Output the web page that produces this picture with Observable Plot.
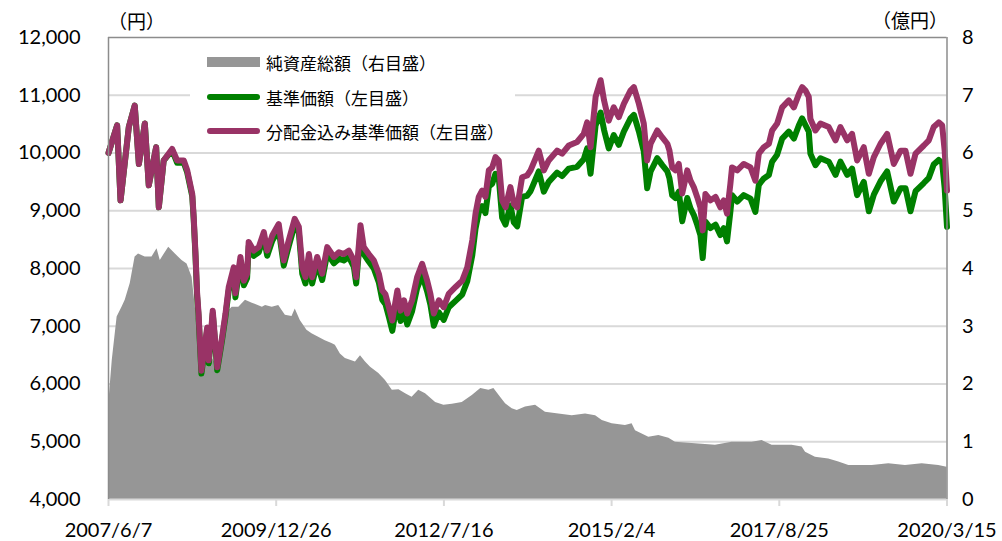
<!DOCTYPE html>
<html><head><meta charset="utf-8">
<script src="https://cdn.jsdelivr.net/npm/d3@7"></script>
<script src="https://cdn.jsdelivr.net/npm/@observablehq/plot@0.6"></script>
<style>
body{margin:0;background:#fff;}
#wrap{position:relative;width:1002px;height:541px;overflow:hidden;font-family:"Noto Sans CJK JP",sans-serif;}
.unit{position:absolute;font-size:19px;color:#000;line-height:1;white-space:nowrap;}
#legend{position:absolute;left:190px;top:46px;width:325px;height:100px;background:#fff;}
.item{position:absolute;left:17px;height:20px;display:flex;align-items:center;font-size:17px;color:#000;white-space:nowrap;}
.sw{width:53px;margin-right:6px;}
</style></head><body><div id="wrap"></div>
<script>
// ---- data ----
const navDates = [
 "2007-06-07","2007-07-25","2007-08-13","2007-09-28","2007-10-31","2007-11-23","2007-12-26",
 "2008-01-17","2008-02-27","2008-03-13","2008-04-09","2008-05-26","2008-06-23","2008-07-30","2008-08-18","2008-09-15","2008-09-23","2008-10-03","2008-10-12","2008-10-20","2008-11-05","2008-12-07","2008-12-16",
 "2009-01-07","2009-02-01","2009-02-28","2009-03-19","2009-04-06","2009-05-04","2009-05-13","2009-06-10","2009-06-29","2009-07-17","2009-07-26","2009-08-23","2009-09-20","2009-10-18","2009-11-06","2009-12-04",
 "2010-01-09","2010-02-06","2010-03-06","2010-04-08","2010-05-01","2010-05-20","2010-06-07","2010-06-26","2010-07-14","2010-08-11","2010-09-08","2010-10-06","2010-11-12","2010-12-10",
 "2011-01-06","2011-02-03","2011-03-03","2011-03-16","2011-04-09","2011-04-27","2011-05-25","2011-06-22","2011-07-20","2011-08-08","2011-08-26","2011-09-14","2011-10-03","2011-10-31","2011-11-18","2011-12-07","2011-12-25",
 "2012-01-21","2012-02-18","2012-03-17","2012-04-14","2012-05-02","2012-05-21","2012-06-18","2012-07-15","2012-08-12","2012-09-19","2012-10-26","2012-11-23","2012-12-21",
 "2013-01-08","2013-01-26","2013-02-14","2013-03-04","2013-03-23","2013-04-11","2013-04-29","2013-05-17","2013-06-05","2013-06-24","2013-07-21","2013-08-09","2013-08-28","2013-09-24","2013-10-22","2013-11-10","2013-12-26",
 "2014-01-23","2014-02-19","2014-04-07","2014-05-05","2014-06-11","2014-07-27","2014-09-02","2014-09-21","2014-10-10","2014-11-07","2014-12-05","2014-12-24",
 "2015-01-19","2015-02-16","2015-03-16","2015-04-13","2015-05-20","2015-06-08","2015-07-06","2015-08-02","2015-08-21","2015-09-09","2015-10-16","2015-11-13","2015-12-11","2015-12-23",
 "2016-01-07","2016-01-25","2016-02-13","2016-03-03","2016-03-31","2016-04-18","2016-05-06","2016-05-25","2016-06-12","2016-06-25","2016-07-10","2016-08-07","2016-09-04","2016-10-01","2016-10-20","2016-11-07","2016-11-26","2016-12-05",
 "2017-01-03","2017-02-08","2017-03-18","2017-04-14","2017-05-03","2017-05-31","2017-06-28","2017-07-16","2017-08-13","2017-09-10","2017-10-17","2017-11-14","2017-12-12","2017-12-30",
 "2018-01-18","2018-02-05","2018-02-14","2018-03-14","2018-04-11","2018-05-27","2018-07-04","2018-07-31","2018-09-07","2018-10-04","2018-11-01","2018-12-08",
 "2019-01-05","2019-02-02","2019-03-11","2019-04-17","2019-05-24","2019-07-01","2019-07-28","2019-08-25","2019-09-22","2019-11-07","2019-12-05",
 "2020-01-01","2020-01-29","2020-02-17","2020-03-02","2020-03-15"
];
// 分配金込み基準価額 (purple)
const navWithDiv = [
 10000,10480,9180,10450,10820,9810,10510,
 9440,10100,9060,9870,10070,9870,9870,9700,9290,8890,8260,7570,7220,6230,6980,6410,
 7270,6290,6810,7220,7680,8020,7570,8200,7790,7910,8460,8310,8370,8630,8310,8570,
 8770,8140,8490,8860,8720,8020,7850,8250,7850,8200,7910,8370,8200,8280,
 8250,8310,8140,7850,8750,8370,8250,8140,7910,7620,7550,7330,7100,7620,7270,7450,7220,
 7450,7850,8080,7790,7560,7220,7450,7330,7560,7680,7790,8020,8490,
 8950,9240,9350,9240,9700,9750,9930,9870,9180,9060,9410,9120,9060,9580,9610,9700,10040,
 9700,9870,10040,9990,10130,10190,10330,10530,10100,10970,11260,10910,
 10560,10790,10620,10850,11080,11140,10850,10510,9870,10160,10390,10270,10160,10040,
 9750,9700,9810,9300,9700,9520,9410,9240,9060,8660,9290,9180,9240,9060,9180,8950,9470,9750,
 9700,9810,9750,9520,9990,10100,10160,10390,10510,10790,10910,10790,11020,11140,
 11080,10970,10590,10390,10510,10450,10220,10450,10220,10330,9870,10100,
 9640,9930,10160,10330,9810,10040,10040,9640,9990,10130,10220,
 10450,10530,10480,10040,9350
];
// 基準価額 (green)
const navBase = [
 10000,10480,9180,10450,10820,9810,10510,
 9440,10100,9060,9870,10050,9830,9830,9660,9250,8850,8210,7520,7170,6180,6930,6360,
 7220,6240,6760,7170,7620,7960,7500,8130,7710,7830,8380,8220,8280,8540,8220,8480,
 8680,8050,8390,8760,8620,7910,7740,8140,7740,8090,7800,8260,8090,8170,
 8140,8200,8030,7740,8630,8250,8120,8000,7760,7460,7380,7160,6920,7440,7090,7260,7030,
 7260,7660,7890,7600,7370,7010,7240,7110,7330,7440,7550,7780,8230,
 8690,8970,9080,8960,9420,9470,9640,9580,8880,8760,9090,8800,8730,9240,9260,9340,9680,
 9330,9500,9660,9600,9730,9760,9890,10080,9640,10480,10700,10400,
 10080,10310,10140,10370,10600,10660,10370,10030,9390,9680,9910,9790,9680,9560,
 9270,9220,9330,8820,9220,9040,8930,8760,8580,8180,8810,8700,8760,8580,8700,8470,8990,9270,
 9160,9270,9210,8980,9450,9560,9620,9850,9970,10250,10370,10250,10480,10600,
 10480,10370,9990,9790,9910,9850,9620,9850,9620,9730,9270,9500,
 8990,9280,9510,9680,9160,9390,9390,8990,9340,9480,9570,
 9800,9880,9830,9390,8720
];
// 純資産総額 (億円, right axis)
const assetDates = [
 "2007-06-07","2007-06-28","2007-07-25","2007-08-21","2007-09-08","2007-10-06","2007-11-02","2007-11-21","2007-12-28",
 "2008-02-04","2008-03-03","2008-03-21","2008-05-07","2008-06-13","2008-07-20","2008-08-17","2008-09-14","2008-10-03","2008-10-31","2008-11-28","2008-12-26",
 "2009-02-01","2009-03-19","2009-04-06","2009-04-25","2009-06-01","2009-07-08","2009-08-15","2009-10-10","2009-10-28","2009-12-04",
 "2010-01-09","2010-02-15","2010-03-24","2010-04-11","2010-05-09","2010-06-15","2010-07-13","2010-08-19","2010-09-25","2010-11-01","2010-11-20","2010-12-18",
 "2011-01-15","2011-03-12","2011-04-09","2011-05-07","2011-06-04","2011-07-20","2011-08-26","2011-10-03","2011-11-09","2011-12-16",
 "2012-01-21","2012-02-27","2012-04-05","2012-05-31","2012-07-16","2012-09-01","2012-10-26","2012-12-21",
 "2013-02-06","2013-03-23","2013-04-20","2013-05-27","2013-06-24","2013-07-31","2013-08-28","2013-10-13","2013-12-08",
 "2014-02-01","2014-04-16","2014-06-30","2014-09-12","2014-11-07","2014-12-14",
 "2015-02-07","2015-04-22","2015-05-29","2015-06-17","2015-08-30","2015-10-25","2015-12-20",
 "2016-01-25","2016-06-03","2016-09-04","2016-12-05",
 "2017-03-27","2017-05-22","2017-07-16","2017-11-04","2017-12-30",
 "2018-01-18","2018-03-14","2018-05-27","2018-07-22","2018-09-16","2018-11-29",
 "2019-01-24","2019-04-26","2019-07-28","2019-10-29",
 "2020-01-29","2020-03-15"
];
const assetValues = [
 1.60,2.41,3.16,3.33,3.45,3.74,4.20,4.25,4.20,
 4.20,4.34,4.14,4.37,4.25,4.14,4.08,3.85,3.30,2.40,2.50,2.50,
 2.30,3.10,3.27,3.33,3.33,3.45,3.40,3.33,3.36,3.33,
 3.36,3.19,3.17,3.30,3.10,2.93,2.87,2.81,2.75,2.70,2.67,2.52,
 2.44,2.38,2.49,2.38,2.29,2.18,2.06,1.89,1.90,1.83,
 1.77,1.89,1.83,1.68,1.63,1.65,1.68,1.80,
 1.92,1.89,1.92,1.77,1.66,1.57,1.54,1.60,1.63,
 1.51,1.48,1.45,1.48,1.45,1.37,
 1.31,1.28,1.31,1.19,1.08,1.11,1.06,
 0.99,0.96,0.94,0.99,
 0.99,1.02,0.94,0.94,0.91,
 0.82,0.73,0.70,0.65,0.59,0.59,
 0.59,0.62,0.59,0.62,
 0.59,0.56
];
const yTicks = [4000,5000,6000,7000,8000,9000,10000,11000,12000];
const rightTicks = [0,1,2,3,4,5,6,7,8];
const xTickDates = ["2007-06-07","2009-12-26","2012-07-16","2015-02-04","2017-08-25","2020-03-15"];
const labels = {assets:"純資産総額（右目盛）", nav:"基準価額（左目盛）", navDiv:"分配金込み基準価額（左目盛）", leftUnit:"（円）", rightUnit:"（億円）"};
const colors = {assets:"#969696", nav:"#008000", navDiv:"#993366", grid:"#d9d9d9", frame:"#8c8c8c"};

// ---- build ----
const parse = s => new Date(s + "T00:00:00Z");
const navRows = navDates.map((d,i) => ({date: parse(d), nav: navBase[i], navDiv: navWithDiv[i]}));
const assetRows = assetDates.map((d,i) => ({date: parse(d), v: assetValues[i]}));
const toLeft = d3.scaleLinear().domain([rightTicks[0], rightTicks[rightTicks.length-1]]).range([yTicks[0], yTicks[yTicks.length-1]]);
const xDomain = [parse(xTickDates[0]), parse(xTickDates[xTickDates.length-1])];
const fmtDate = d => `${d.getUTCFullYear()}/${d.getUTCMonth()+1}/${d.getUTCDate()}`;

const chart = Plot.plot({
  width: 1002, height: 541,
  marginLeft: 108, marginRight: 55.5, marginTop: 37, marginBottom: 42,
  style: {fontFamily: "Lato, 'Noto Sans CJK JP', sans-serif", fontSize: "20px", color: "#000", background: "#fff"},
  x: {type: "utc", domain: xDomain, label: null},
  y: {domain: [yTicks[0], yTicks[yTicks.length-1]], label: null},
  marks: [
    Plot.ruleY(yTicks.slice(1, -1), {stroke: colors.grid, strokeWidth: 2}),
    Plot.areaY(assetRows, {x: "date", y1: yTicks[0], y2: d => toLeft(d.v), fill: colors.assets}),
    Plot.line(navRows, {x: "date", y: "nav", stroke: colors.nav, strokeWidth: 6, strokeLinejoin: "round", strokeLinecap: "round"}),
    Plot.line(navRows, {x: "date", y: "navDiv", stroke: colors.navDiv, strokeWidth: 6, strokeLinejoin: "round", strokeLinecap: "round"}),
    Plot.ruleY([yTicks[0]], {stroke: colors.grid, strokeWidth: 2}),
    Plot.ruleY([yTicks[yTicks.length-1]], {stroke: colors.frame, strokeWidth: 1.5}),
    Plot.ruleX(xDomain, {stroke: colors.frame, strokeWidth: 1.5}),
    Plot.axisY({anchor: "left", ticks: yTicks, tickSize: 0, tickPadding: 28, tickFormat: d3.format(","), label: null, fontSize: 20}),
    Plot.axisY({anchor: "right", ticks: rightTicks.map(toLeft), tickSize: 0, tickPadding: 15, tickFormat: d => String(Math.round(toLeft.invert(d))), label: null, fontSize: 20}),
    Plot.axisX({ticks: xTickDates.map(parse), tickSize: 7, tickPadding: 16, stroke: colors.grid, strokeWidth: 2, tickFormat: fmtDate, label: null, fontSize: 20})
  ]
});
const wrap = document.getElementById("wrap");
wrap.appendChild(chart);

// units
const lu = document.createElement("div"); lu.className = "unit"; lu.textContent = labels.leftUnit;
lu.style.left = "108px"; lu.style.top = "11px"; wrap.appendChild(lu);
const ru = document.createElement("div"); ru.className = "unit"; ru.textContent = labels.rightUnit;
ru.style.right = "54px"; ru.style.top = "10px"; wrap.appendChild(ru);

// legend
const lg = document.createElement("div"); lg.id = "legend";
const items = [
  {t: labels.assets, c: colors.assets, kind: "box", top: 6},
  {t: labels.nav, c: colors.nav, kind: "line", top: 41},
  {t: labels.navDiv, c: colors.navDiv, kind: "line", top: 75}
];
for (const it of items) {
  const row = document.createElement("div"); row.className = "item"; row.style.top = it.top + "px";
  const sw = document.createElement("div"); sw.className = "sw";
  if (it.kind === "box") { sw.style.height = "10px"; sw.style.background = it.c; }
  else { sw.style.height = "6px"; sw.style.borderRadius = "3px"; sw.style.background = it.c; }
  const tx = document.createElement("span"); tx.textContent = it.t;
  row.appendChild(sw); row.appendChild(tx); lg.appendChild(row);
}
wrap.appendChild(lg);
</script>
</body></html>
